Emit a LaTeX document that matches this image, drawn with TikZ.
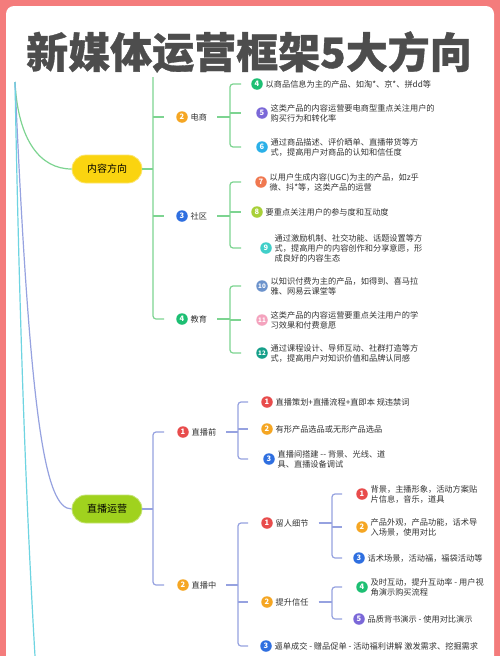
\documentclass[tikz,border=0pt]{standalone}
\usepackage{fontspec}
\setmainfont{Noto Sans CJK SC}
\usetikzlibrary{positioning}
\definecolor{framered}{RGB}{244,124,124}
\definecolor{titlegray}{RGB}{77,77,77}
\definecolor{txtgray}{RGB}{51,51,51}
\definecolor{linegreen}{RGB}{125,212,145}
\definecolor{linepurple}{RGB}{150,162,224}
\definecolor{linecyan}{RGB}{110,212,225}
\definecolor{nodeyellow}{RGB}{250,212,16}
\definecolor{nodelime}{RGB}{160,210,30}
\definecolor{bred}{RGB}{232,76,76}
\definecolor{borange}{RGB}{245,166,35}
\definecolor{bblue}{RGB}{47,111,224}
\definecolor{bgreen}{RGB}{29,191,115}
\definecolor{bpurple}{RGB}{123,104,216}
\definecolor{bsky}{RGB}{43,176,232}
\definecolor{bcoral}{RGB}{240,120,80}
\definecolor{blime}{RGB}{168,208,56}
\definecolor{baqua}{RGB}{64,207,201}
\definecolor{bsteel}{RGB}{108,147,204}
\definecolor{bpink}{RGB}{244,163,190}
\definecolor{bteal}{RGB}{22,160,138}
\newcommand{\twodig}[1]{{\fontsize{6.2}{6.2}\selectfont #1}}

\begin{document}
\begin{tikzpicture}[x=1pt, y=-1pt,
    badge/.style={circle, fill=#1, text=white, inner sep=0pt, minimum size=11.5pt, font=\fontsize{7.5}{7.5}\selectfont\bfseries},
    lbl/.style={right=1.5pt of #1, inner sep=1pt, text=txtgray, font=\fontsize{8.2}{10}\selectfont},
    leaf/.style={right=1.5pt of #1, inner sep=1pt, align=left, text=txtgray, font=\fontsize{8.2}{10}\selectfont},
    main/.style={rounded corners=14pt, fill=#1, minimum width=70pt, minimum height=28pt, font=\fontsize{10}{12}\selectfont, text=black},
    gline/.style={linegreen, line width=1.2pt},
    pline/.style={linepurple, line width=1.2pt}]
  \useasboundingbox (0,0) rectangle (500,656);
  % frame
  \fill[framered] (0,0) rectangle (500,656);
  \fill[white] (6,656) [rounded corners=8pt] -- (6,6) -- (494,6) [sharp corners] -- (494,656) -- cycle;

  \node[font=\fontsize{42}{42}\selectfont\bfseries\addfontfeature{FakeBold=0.8}, text=titlegray] (title) at (249,52) {新媒体运营框架5大方向};

  % main branches
  \node[main=nodeyellow, draw=nodeyellow!60!white, line width=0.8pt] (content) at (107,169) {内容方向};
  \node[main=nodelime, draw=nodelime!60!white, line width=0.8pt] (live) at (107,509) {直播运营};

  \coordinate (root) at (15,82);
  \coordinate (cyanend) at (35,656);
  \coordinate (ctop) at (153,77);
  \coordinate (k1) at (153,0);  \coordinate (k1e) at (164,0);
  \coordinate (k2) at (230,0);  \coordinate (k2e) at (241,0);
  \coordinate (k3) at (238,0);  \coordinate (k3e) at (248,0);
  \coordinate (k4) at (332,0);  \coordinate (k4e) at (342,0);

  % content
  \node[badge=borange] (ds) at (182,117) {2};
  \node[lbl=ds] (dsl) {电商};
  \node[badge=bblue] (sq) at (182,216) {3};
  \node[lbl=sq] (sql) {社区};
  \node[badge=bgreen] (jy) at (182,319) {4};
  \node[lbl=jy] (jyl) {教育};

  \node[badge=bgreen] (l4) at (257,84) {4};
  \node[leaf=l4] {以商品信息为主的产品、如淘*、京*、拼dd等};
  \node[badge=bpurple] (l5) at (262,113) {5};
  \node[leaf=l5] {这类产品的内容运营要电商型重点关注用户的\\购买行为和转化率};
  \node[badge=bsky] (l6) at (262,147) {6};
  \node[leaf=l6] {通过商品描述、评价晒单、直播带货等方\\式，提高用户对商品的认知和信任度};
  \node[badge=bcoral] (l7) at (261,182) {7};
  \node[leaf=l7] {以用户生成内容(UGC)为主的产品，如z乎\\微、抖*等，这类产品的运营};
  \node[badge=blime] (l8) at (257,212) {8};
  \node[leaf=l8] {要重点关注用户的参与度和互动度};
  \node[badge=baqua] (l9) at (266,248) {9};
  \node[leaf=l9] {通过激励机制、社交功能、话题设置等方\\式，提高用户的内容创作和分享意愿，形\\成良好的内容生态};
  \node[badge=bsteel] (l10) at (262,286) {\twodig{10}};
  \node[leaf=l10] {以知识付费为主的产品，如得到、喜马拉\\雅、网易云课堂等};
  \node[badge=bpink] (l11) at (262,320) {\twodig{11}};
  \node[leaf=l11] {这类产品的内容运营要重点关注用户的学\\习效果和付费意愿};
  \node[badge=bteal] (l12) at (262,353) {\twodig{12}};
  \node[leaf=l12] {通过课程设计、导师互动、社群打造等方\\式，提高用户对知识价值和品牌认同感};

  % live
  \node[badge=bred] (zq) at (183,432) {1};
  \node[lbl=zq] (zql) {直播前};
  \node[badge=borange] (zz) at (183,585) {2};
  \node[lbl=zz] (zzl) {直播中};

  \node[badge=bred] (a1) at (267,402) {1};
  \node[leaf=a1] {直播策划+直播流程+直即本 规违禁词};
  \node[badge=borange] (a2) at (267,429) {2};
  \node[leaf=a2] {有形产品选品或无形产品选品};
  \node[badge=bblue] (a3) at (269,459) {3};
  \node[leaf=a3] {直播间搭建 -{}- 背景、光线、道\\具、直播设备调试};

  \node[badge=bred] (lr) at (267,523) {1};
  \node[lbl=lr] (lrl) {留人细节};
  \node[badge=borange] (ts) at (267,602) {2};
  \node[lbl=ts] (tsl) {提升信任};
  \node[badge=bblue] (bd) at (266,646) {3};
  \node[leaf=bd] {逼单成交 - 赠品促单 - 活动福利讲解 激发需求、挖掘需求};

  \node[badge=bred] (c1) at (362,494) {1};
  \node[leaf=c1] {背景，主播形象，活动方案贴\\片信息，音乐，道具};
  \node[badge=borange] (c2) at (362,527) {2};
  \node[leaf=c2] {产品外观，产品功能，话术导\\入场景，使用对比};
  \node[badge=bblue] (c3) at (359,558) {3};
  \node[leaf=c3] {话术场景，活动福，福袋活动等};
  \node[badge=bgreen] (d4) at (362,587) {4};
  \node[leaf=d4] {及时互动，提升互动率 - 用户视\\角演示购买流程};
  \node[badge=bpurple] (d5) at (359,619) {5};
  \node[leaf=d5] {品质背书演示 - 使用对比演示};

  % connectors
  \draw[gline] (root) .. controls (18,140) and (40,169) .. (content.west);
  \draw[pline] (root) .. controls (30,420) and (45,509) .. (live.west);
  \draw[linecyan, line width=1.2pt] (root) .. controls (20,350) and (27,520) .. (cyanend);

  \draw[gline] (content.east) -- (content -| k1);
  \draw[gline, rounded corners=3pt] (ctop) -- (jy -| k1) -- (jy -| k1e);
  \draw[gline] (ds -| k1) -- (ds -| k1e);
  \draw[gline] (sq -| k1) -- (sq -| k1e);
  \foreach \p/\a/\b/\c in {dsl/l4/l5/l6, sql/l7/l8/l9, jyl/l10/l11/l12}{
    \draw[gline] ([xshift=9pt]\p.east) -- (\p -| k2);
    \draw[gline, rounded corners=3pt] (\a -| k2e) -- (\a -| k2) -- (\c -| k2) -- (\c -| k2e);
    \draw[gline] (\b -| k2) -- (\b -| k2e);
  }

  \draw[pline] (live.east) -- (live -| k1);
  \draw[pline, rounded corners=3pt] (zq -| k1e) -- (zq -| k1) -- (zz -| k1) -- (zz -| k1e);
  \foreach \p/\a/\b/\c/\k/\ke in {zql/a1/a2/a3/k3/k3e, zzl/lr/ts/bd/k3/k3e, lrl/c1/c2/c3/k4/k4e}{
    \draw[pline] ([xshift=9pt]\p.east) -- (\p -| \k);
    \draw[pline, rounded corners=3pt] (\a -| \ke) -- (\a -| \k) -- (\c -| \k) -- (\c -| \ke);
    \draw[pline] (\b -| \k) -- (\b -| \ke);
  }
  \draw[pline] ([xshift=9pt]tsl.east) -- (tsl -| k4);
  \draw[pline, rounded corners=3pt] (d4 -| k4e) -- (d4 -| k4) -- (d5 -| k4) -- (d5 -| k4e);
\end{tikzpicture}
\end{document}
